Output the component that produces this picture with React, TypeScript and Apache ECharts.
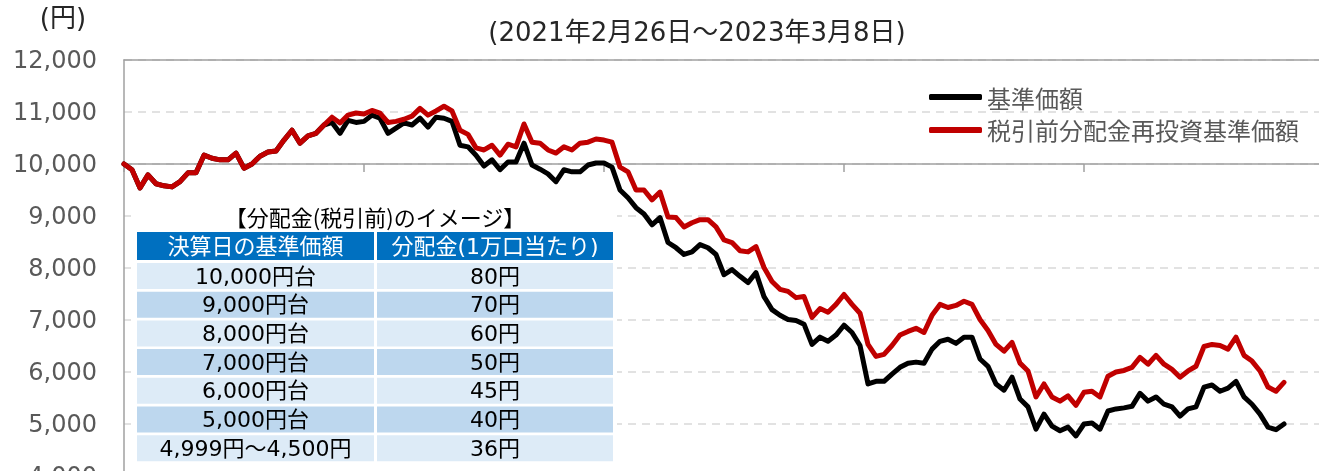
import React, { useEffect, useRef } from "react";
import * as echarts from "echarts";

// index positions along the period 2021-02-26 .. 2023-03-08 (plus empty room to the right edge of the plot)
const categories: string[] = Array.from({ length: 151 }, (_, i) => `P${i}`);

const navValues: number[] = [
  10000, 9890, 9540, 9790, 9620, 9580, 9560, 9660, 9830, 9830,
  10170, 10110, 10080, 10080, 10210, 9920, 10000, 10150, 10230, 10250,
  10460, 10650, 10400, 10540, 10590, 10750,
  10800, 10590, 10840, 10800, 10820, 10940, 10880, 10590, 10690, 10790,
  10750, 10880, 10710, 10900, 10880, 10820, 10360, 10330, 10170, 9960,
  10080, 9890, 10040, 10040, 10400, 9980, 9900, 9810, 9660, 9890,
  9850, 9850, 9980, 10020, 10020, 9940, 9500, 9350, 9160, 9040,
  8830, 8970, 8490, 8390, 8260, 8310, 8450, 8390, 8260, 7870,
  7970, 7840, 7720, 7910, 7450, 7200, 7090, 7010, 6990, 6920,
  6530, 6670, 6590, 6710, 6900, 6760, 6510, 5770, 5820, 5820,
  5960, 6090, 6170, 6190, 6170, 6440, 6590, 6630, 6550, 6670,
  6670, 6250, 6110, 5770, 5650, 5900, 5480, 5330, 4900, 5190,
  4960, 4870, 4940, 4770, 5000, 5020, 4900, 5250, 5290, 5310,
  5340, 5590, 5440, 5520, 5380, 5330, 5150, 5290, 5330, 5710,
  5750, 5630, 5690, 5820, 5520, 5380, 5190, 4940, 4890, 5000,
];

const reinvestValues: number[] = [
  10000, 9890, 9540, 9790, 9620, 9580, 9560, 9660, 9830, 9830,
  10170, 10110, 10080, 10080, 10210, 9920, 10000, 10150, 10230, 10250,
  10460, 10650, 10400, 10540, 10590, 10750, 10900, 10790, 10940, 10980,
  10960, 11030, 10980, 10800, 10820, 10860, 10920, 11070, 10940, 11020,
  11110, 11020, 10650, 10570, 10310, 10270, 10360, 10170, 10380, 10330,
  10770, 10420, 10400, 10270, 10210, 10330, 10270, 10400, 10420, 10480,
  10460, 10420, 9940, 9850, 9500, 9500, 9310, 9460, 8980, 8970,
  8790, 8870, 8930, 8930, 8790, 8540, 8490, 8330, 8310, 8410,
  8010, 7740, 7590, 7550, 7430, 7450, 7050, 7220, 7150, 7300,
  7490, 7300, 7130, 6530, 6300, 6340, 6510, 6710, 6780, 6840,
  6760, 7090, 7300, 7240, 7280, 7360, 7300, 7010, 6800, 6530,
  6400, 6570, 6170, 6020, 5520, 5770, 5520, 5440, 5540, 5360,
  5610, 5630, 5520, 5920, 6000, 6030, 6090, 6280, 6150, 6320,
  6150, 6050, 5900, 6020, 6110, 6490, 6530, 6510, 6440, 6670,
  6320, 6210, 6020, 5710, 5630, 5800,
];

const seriesNames = ["基準価額", "税引前分配金再投資基準価額"];
const periodText = "(2021年2月26日～2023年3月8日)";
const unitText = "(円)";
const tableTitle = "【分配金(税引前)のイメージ】";
const tableHeaders = ["決算日の基準価額", "分配金(1万口当たり)"];
const tableRanges = ["10,000円台", "9,000円台", "8,000円台", "7,000円台", "6,000円台", "5,000円台", "4,999円～4,500円"];
const tableAmounts = ["80円", "70円", "60円", "50円", "45円", "40円", "36円"];

const FONT = "'DejaVu Sans', 'Noto Sans CJK JP', sans-serif";
const CJK = "'Noto Sans CJK JP', 'DejaVu Sans', sans-serif";
const AXIS = "#a0a0a0";

function txt(text: string, x: number, y: number, size: number, fill: string, family = FONT) {
  return {
    type: "text",
    z: 100,
    x,
    y,
    style: {
      text,
      fill,
      fontSize: size,
      fontFamily: family,
      align: "center",
      verticalAlign: "middle",
      textAlign: "center",
      textVerticalAlign: "middle",
    },
  };
}

export default function App() {
  const ref = useRef<HTMLDivElement>(null);
  useEffect(() => {
    document.body.style.overflow = "hidden";
    const chart = echarts.init(ref.current!, undefined, { renderer: "svg" });

    const graphics: any[] = [];
    graphics.push(txt(unitText, 63, 18, 26, "#262626"));
    graphics.push(txt(periodText, 697, 32, 26, "#262626"));
    graphics.push({ type: "rect", z: 99, shape: { x: 131, y: 201, width: 486, height: 300 }, style: { fill: "#ffffff" } });
    graphics.push(txt(tableTitle, 375, 216, 22, "#000000", CJK));
    const colX = [137, 377];
    const colW = [237, 236];
    for (let c = 0; c < 2; c++) {
      graphics.push({ type: "rect", z: 100, shape: { x: colX[c], y: 232, width: colW[c], height: 28 }, style: { fill: "#0070C0" } });
      graphics.push(txt(tableHeaders[c], colX[c] + colW[c] / 2, 246, 22, "#ffffff"));
    }
    for (let r = 0; r < tableRanges.length; r++) {
      const y = 263 + r * 28.7;
      const fill = r % 2 === 0 ? "#DDEBF7" : "#BDD7EE";
      for (let c = 0; c < 2; c++) {
        graphics.push({ type: "rect", z: 100, shape: { x: colX[c], y, width: colW[c], height: 26 }, style: { fill } });
      }
      graphics.push(txt(tableRanges[r], colX[0] + colW[0] / 2, y + 13, 22, "#000000"));
      graphics.push(txt(tableAmounts[r], colX[1] + colW[1] / 2, y + 13, 22, "#000000"));
    }

    chart.setOption({
      animation: false,
      grid: { left: 124, top: 60, right: 16, bottom: 44 },
      legend: {
        orient: "vertical",
        left: 924,
        top: 80,
        itemWidth: 53,
        itemHeight: 6,
        itemGap: 9,
        icon: "roundRect",
        data: seriesNames,
        textStyle: { fontSize: 24, color: "#595959", fontFamily: CJK },
      },
      xAxis: [
        {
          type: "category",
          data: categories,
          boundaryGap: false,
          position: "bottom",
          offset: -312,
          axisLine: { show: true, onZero: false, lineStyle: { color: AXIS, width: 1.5 } },
          axisTick: { show: true, interval: 29, length: 8, lineStyle: { color: AXIS, width: 1.5 } },
          axisLabel: { show: false },
          splitLine: { show: false },
        },
        {
          type: "category",
          data: categories,
          boundaryGap: false,
          position: "top",
          axisLine: { show: true, onZero: false, lineStyle: { color: AXIS, width: 1.5 } },
          axisTick: { show: false },
          axisLabel: { show: false },
          splitLine: { show: false },
        },
      ],
      yAxis: {
        type: "value",
        min: 4000,
        max: 12000,
        interval: 1000,
        axisLine: { show: true, lineStyle: { color: AXIS, width: 1.5 } },
        axisTick: { show: false },
        axisLabel: {
          margin: 27,
          fontSize: 24,
          color: "#595959",
          fontFamily: FONT,
          formatter: (v: number) => v.toLocaleString("en-US"),
        },
        splitLine: { show: true, lineStyle: { color: "#d9d9d9", width: 1.5, type: [8, 6] } },
      },
      series: [
        {
          name: seriesNames[0],
          type: "line",
          data: navValues,
          showSymbol: false,
          symbol: "none",
          color: "#000000",
          lineStyle: { color: "#000000", width: 5, join: "round", cap: "round" },
          z: 2,
        },
        {
          name: seriesNames[1],
          type: "line",
          data: reinvestValues,
          showSymbol: false,
          symbol: "none",
          color: "#C00000",
          lineStyle: { color: "#C00000", width: 5, join: "round", cap: "round" },
          z: 3,
        },
      ],
      graphic: { elements: graphics },
    });
    return () => chart.dispose();
  }, []);
  return <div ref={ref} style={{ position: "fixed", left: 0, top: 0, width: 1340, height: 520 }} />;
}
